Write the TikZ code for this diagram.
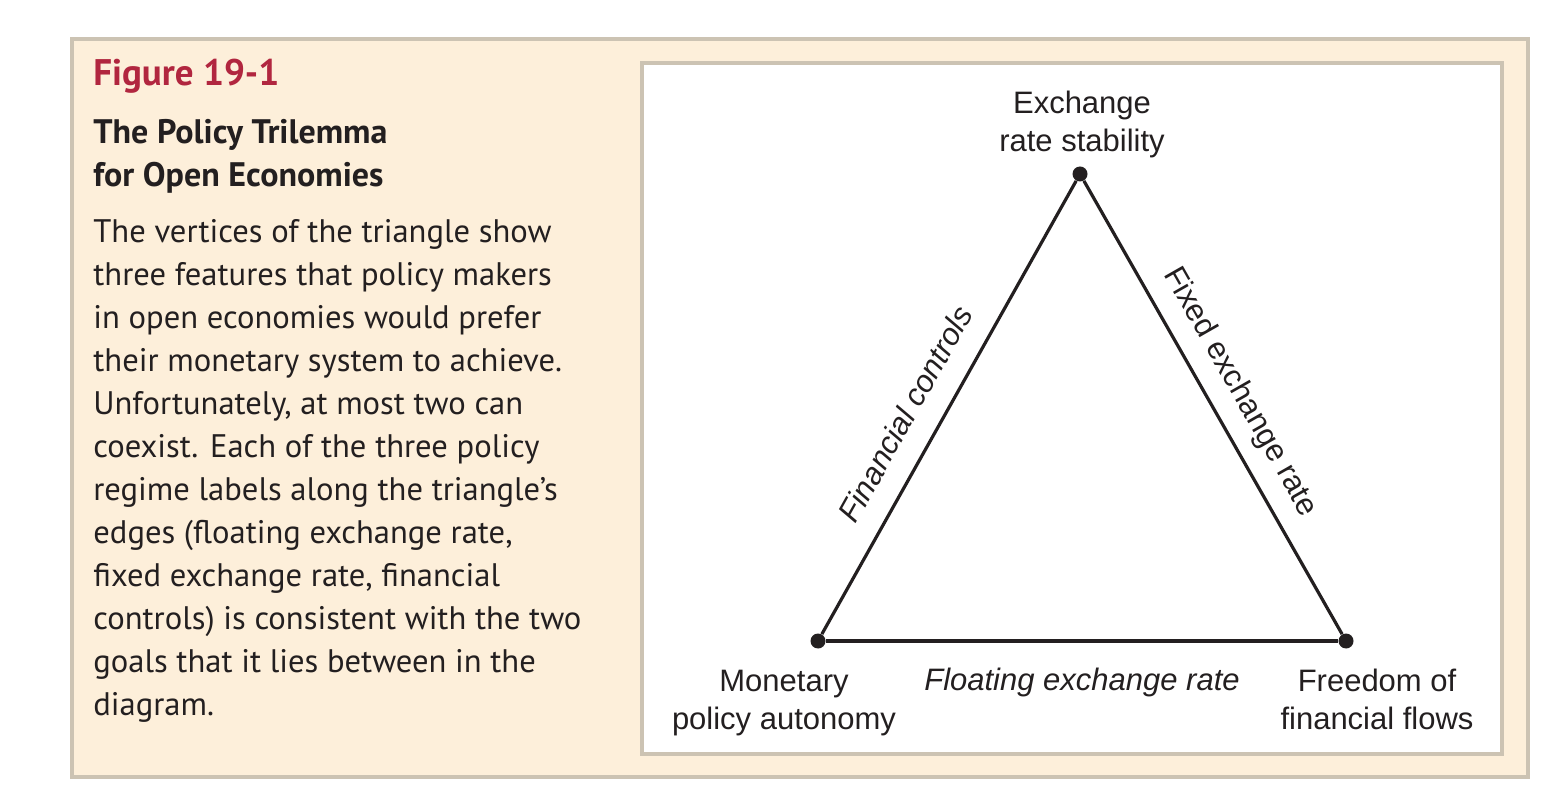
\documentclass[tikz,border=0pt]{standalone}
\usepackage{fontspec}
\setmainfont{PT Sans}
\newfontfamily\bodyfont{PT Sans}
\newfontfamily\helv{Liberation Sans}
\definecolor{cream}{HTML}{FDEFDA}
\definecolor{frame}{HTML}{CCC3B3}
\definecolor{crimson}{HTML}{B1263F}
\definecolor{ink}{HTML}{231F20}
\begin{document}
\begin{tikzpicture}[x=0.5pt,y=-0.5pt,
  dot/.style={circle,fill=ink,inner sep=0pt,minimum size=7.5pt},
  edge/.style={draw=ink,line width=1.6pt},
  vlabel/.style={font=\helv\fontsize{15.5}{19}\selectfont,align=center,inner sep=0pt,anchor=base,text=ink},
  elabel/.style={font=\helv\fontsize{15.5}{19}\selectfont,text=ink}
]
\useasboundingbox (0,0) rectangle (1562,806);
\fill[white] (0,0) rectangle (1562,806);
% outer panel
\draw[fill=cream,draw=frame,line width=2pt] (72,39) rectangle (1528,777);
% inner white box
\draw[fill=white,draw=frame,line width=1.8pt] (642,63) rectangle (1502,754);
% left text
\node[anchor=base west,inner sep=0pt,text=crimson,font=\bfseries\fontsize{18.5}{19}\selectfont] (fig) at (93,86) {Figure 19-1};
\node[anchor=base west,inner sep=0pt,text=ink,align=left,font=\bfseries\fontsize{17}{21.5}\selectfont] (title) at (93,187) {The Policy Trilemma\\for Open Economies};
\node[anchor=base west,inner sep=0pt,text=ink,align=left,font=\bodyfont\fontsize{16.3}{21.5}\selectfont] (body) at (93,715.5) {The vertices of the triangle show\\three features that policy makers\\in open economies would prefer\\their monetary system to achieve.\\Unfortunately, at most two can\\coexist. Each of the three policy\\regime labels along the triangle’s\\edges (floating exchange rate,\\fixed exchange rate, financial\\controls) is consistent with the two\\goals that it lies between in the\\diagram.};
% triangle
\node[dot] (T) at (1080,174) {};
\node[dot] (L) at (818,641) {};
\node[dot] (R) at (1346,641) {};
\draw[edge] (L) -- (T) node[elabel,pos=0.448,sloped,above,inner sep=11pt,font=\helv\itshape\fontsize{15.5}{19}\selectfont] (fc) {Financial controls};
\draw[edge] (T) -- (R) node[elabel,pos=0.5,sloped,above,inner sep=7.5pt] (fx) {Fixed exchange rate};
\draw[edge] (L) -- (R) node[elabel,midway,anchor=base,inner sep=0pt,yshift=-24.5pt,font=\helv\itshape\fontsize{15.5}{19}\selectfont] (fl) {Floating exchange rate};
\node[vlabel] (tl) at (1082,152) {Exchange\\rate stability};
\node[vlabel] (ll) at (784,729) {Monetary\\policy autonomy};
\node[vlabel] (rl) at (1377,729) {Freedom of\\financial flows};
\end{tikzpicture}
\end{document}
